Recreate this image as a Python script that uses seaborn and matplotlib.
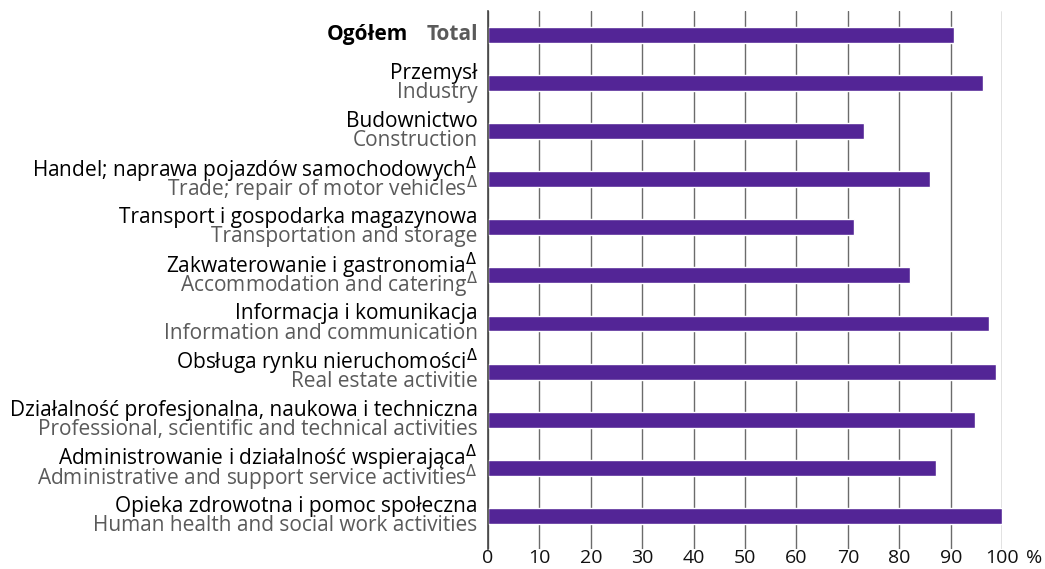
import pandas as pd
import seaborn as sns
import matplotlib.pyplot as plt

# data
sectors_pl = ["Ogółem", "Przemysł", "Budownictwo",
              "Handel; naprawa pojazdów samochodowych",
              "Transport i gospodarka magazynowa",
              "Zakwaterowanie i gastronomia",
              "Informacja i komunikacja",
              "Obsługa rynku nieruchomości",
              "Działalność profesjonalna, naukowa i techniczna",
              "Administrowanie i działalność wspierająca",
              "Opieka zdrowotna i pomoc społeczna"]
sectors_en = ["Total", "Industry", "Construction",
              "Trade; repair of motor vehicles",
              "Transportation and storage",
              "Accommodation and catering",
              "Information and communication",
              "Real estate activitie",
              "Professional, scientific and technical activities",
              "Administrative and support service activities",
              "Human health and social work activities"]
delta_pl = [0, 0, 0, 1, 0, 1, 0, 1, 0, 1, 0]
delta_en = [0, 0, 0, 1, 0, 1, 0, 0, 0, 1, 0]
values = [90.7, 96.3, 73.2, 86.0, 71.2, 82.1, 97.5, 98.8, 94.7, 87.2, 100.0]
xticks = [0, 10, 20, 30, 40, 50, 60, 70, 80, 90, 100]

df = pd.DataFrame({"sector": sectors_pl, "value": values})

sns.set_theme(style="white")
plt.rcParams["font.family"] = ["Open Sans", "DejaVu Sans"]

BAR = "#532596"
GREY_TXT = "#5a5a5a"
FS = 15

fig = plt.figure(figsize=(10.45, 5.69), dpi=100)
ax = fig.add_axes([0.467, 0.035, 0.492, 0.946])

sns.barplot(data=df, y="sector", x="value", orient="h", color=BAR,
            width=0.33, saturation=1, ax=ax)

ax.set_xlim(0, 100)
ax.set_ylim(10.69, -0.5)
ax.set_xlabel("")
ax.set_ylabel("")
ax.set_xticks(xticks)
ax.set_xticklabels([str(t) for t in xticks], fontsize=14, color="#111111")
ax.set_yticks([])
ax.tick_params(axis="x", length=0, pad=0)

# vertical grid
ax.xaxis.grid(True, color="#6b6b6b", linewidth=1)
ax.set_axisbelow(True)
for s in ["top", "right", "bottom"]:
    ax.spines[s].set_visible(False)
ax.spines["left"].set_color("#444444")
ax.spines["left"].set_linewidth(1.2)
ax.spines["left"].set_zorder(3)

ax.annotate("%", xy=(100, 0), xycoords=("data", "axes fraction"),
            xytext=(17, 0), textcoords="offset points",
            ha="left", va="top", fontsize=14, color="#111111")

# two-line category labels (Polish black, English grey)
tr = ax.get_yaxis_transform()
for i, (pl, en) in enumerate(zip(sectors_pl, sectors_en)):
    if i == 0:
        ax.text(-0.02, i, "Total", transform=tr, ha="right", va="center",
                fontsize=FS, color=GREY_TXT, fontweight="bold")
        ax.annotate(pl, xy=(-0.02, i), xycoords=tr, xytext=(-50, 0),
                    textcoords="offset points", ha="right", va="center",
                    fontsize=FS, color="black", fontweight="bold")
        continue
    sup_pl = r"$^{\Delta}$" if delta_pl[i] else ""
    sup_en = r"$^{\Delta}$" if delta_en[i] else ""
    ax.text(-0.02, i - 0.2, pl + sup_pl, transform=tr, ha="right", va="center",
            fontsize=FS, color="black")
    ax.text(-0.02, i + 0.2, en + sup_en, transform=tr, ha="right", va="center",
            fontsize=FS, color=GREY_TXT)

fig.savefig("out.png", dpi=100)
